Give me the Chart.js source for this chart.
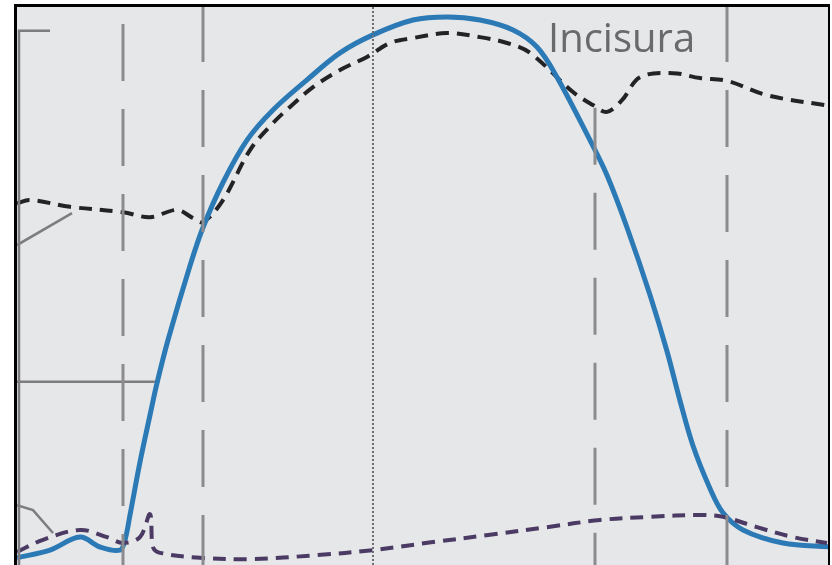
<!DOCTYPE html>
<html>
<head>
<meta charset="utf-8">
<script src="https://cdn.jsdelivr.net/npm/chart.js@4/dist/chart.umd.min.js"></script>
<style>
  html, body { margin: 0; padding: 0; background: #fff; }
  #frame {
    position: absolute; left: 14px; top: 4px;
    width: 811px; height: 558px;
    border-left: 3px solid #000; border-top: 3px solid #000; border-right: 2px solid #000;
    background: #e6e7e9;
  }
</style>
</head>
<body>
<div id="frame"><canvas id="chart"></canvas></div>
<script>
// time in ms, pressure in mmHg
const T_MAX = 811;
const P_MAX = 124;

const ventT = [0, 33, 63, 83, 103, 108, 113, 123, 133, 140, 151, 173, 186, 206, 230, 256, 290, 323, 356, 396, 430, 463, 496, 520, 540, 573, 590, 610, 633, 650, 663, 676, 693, 706, 726, 766, 813];
const ventP = [1.6, 3.3, 6.2, 4.0, 3.3, 5.6, 11.1, 22.9, 33.3, 40.4, 50.0, 66.5, 75.0, 85.0, 94.4, 101.1, 107.8, 113.8, 117.8, 121.1, 121.8, 121.1, 118.9, 115.1, 108.4, 94.4, 86.6, 75.0, 60.0, 47.5, 36.5, 26.5, 17.0, 11.6, 7.8, 4.9, 4.0];

const aortaT = [0, 13, 53, 106, 133, 160, 176, 186, 206, 233, 256, 273, 296, 323, 350, 373, 396, 430, 463, 490, 513, 556, 576, 590, 605, 623, 656, 683, 710, 750, 813];
const aortaP = [80.4, 81.1, 79.6, 78.4, 77.3, 78.9, 77.1, 76.2, 81.1, 92.2, 98.2, 101.8, 106.2, 110.0, 112.9, 116.0, 117.1, 118.2, 117.3, 116.0, 113.8, 105.1, 102.2, 100.7, 103.3, 108.4, 109.3, 108.2, 107.6, 104.4, 102.0];

const atriumT = [0, 26, 63, 90, 106, 123, 133, 136, 143, 183, 233, 300, 356, 416, 473, 530, 583, 633, 683, 706, 740, 776, 810];
const atriumP = [2.9, 5.6, 7.8, 6.2, 4.9, 6.2, 11.3, 4.0, 2.7, 1.6, 1.3, 2.2, 3.3, 5.1, 6.7, 8.4, 10.0, 10.7, 11.1, 10.7, 8.4, 6.2, 4.9];

// event markers (vertical lines)
const eventT = [106, 186, 578, 710];
const eventTop = [124, 124, 101.6, 124];
const eventDashOffset = [68, 2, 0, 2];
const dottedT = [356];

// leader lines from the original figure
const leaders = [
  { t: [33, 2, 2], p: [118.7, 118.7, 0] },
  { t: [0, 138], p: [40.7, 40.7] },
  { t: [0, 55], p: [71.1, 78.2] },
  { t: [0, 16, 36], p: [13.3, 12.2, 7.1] },
];

const labelText = ['Incisura'];
const labelT = [531];
const labelP = [114];

function pts(xs, ys) {
  return xs.map((x, i) => ({ x, y: ys[i] }));
}

const datasets = [];

eventT.forEach((t, i) => {
  datasets.push({
    data: pts([t, t], [eventTop[i], 0]),
    borderColor: '#8c8c8e',
    borderWidth: 3,
    borderDash: [57, 28],
    borderDashOffset: eventDashOffset[i],
    pointRadius: 0,
  });
});

dottedT.forEach(t => {
  datasets.push({
    data: pts([t, t], [P_MAX, 0]),
    borderColor: '#6e6e70',
    borderWidth: 2,
    borderDash: [2, 2],
    pointRadius: 0,
  });
});

leaders.forEach(l => {
  datasets.push({
    data: pts(l.t, l.p),
    borderColor: '#7d7d7f',
    borderWidth: 2.5,
    pointRadius: 0,
  });
});

datasets.push({
  label: 'Atrium',
  data: pts(atriumT, atriumP),
  borderColor: '#4b3a63',
  borderWidth: 4,
  borderDash: [13, 8],
  tension: 0.35,
  pointRadius: 0,
});

datasets.push({
  label: 'Ventricle',
  data: pts(ventT, ventP),
  borderColor: '#2b7ab6',
  borderWidth: 5,
  tension: 0.35,
  pointRadius: 0,
});

datasets.push({
  label: 'Aorta',
  data: pts(aortaT, aortaP),
  borderColor: '#232326',
  borderWidth: 4,
  borderDash: [13, 8],
  tension: 0.35,
  pointRadius: 0,
});

const labelPlugin = {
  id: 'labels',
  afterDatasetsDraw(chart) {
    const { ctx, scales } = chart;
    ctx.save();
    ctx.fillStyle = '#6a6a6c';
    ctx.font = '40px "Open Sans", "Noto Sans", sans-serif';
    ctx.textAlign = 'left';
    ctx.textBaseline = 'alphabetic';
    labelText.forEach((txt, i) => {
      ctx.fillText(txt, scales.x.getPixelForValue(labelT[i]), scales.y.getPixelForValue(labelP[i]));
    });
    ctx.restore();
  },
};

new Chart(document.getElementById('chart').getContext('2d'), {
  type: 'line',
  data: { datasets },
  plugins: [labelPlugin],
  options: {
    responsive: true,
    maintainAspectRatio: false,
    animation: false,
    layout: { padding: 0 },
    plugins: { legend: { display: false }, tooltip: { enabled: false } },
    scales: {
      x: { type: 'linear', min: 0, max: T_MAX, display: false },
      y: { type: 'linear', min: 0, max: P_MAX, display: false },
    },
  },
});
</script>
</body>
</html>
